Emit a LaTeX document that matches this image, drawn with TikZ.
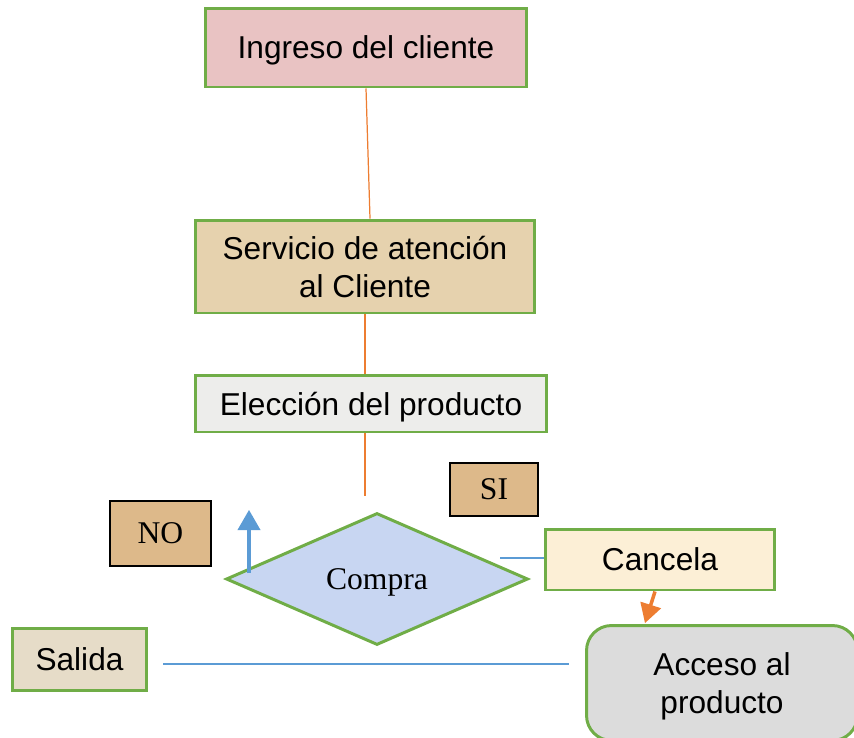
\documentclass[tikz,border=0pt]{standalone}
\usepackage{fontspec}
\setmainfont{Liberation Sans}
\newfontfamily\timesfont{Liberation Serif}
\usetikzlibrary{shapes, arrows}
\usepackage{xcolor}
\definecolor{boxgreen}{HTML}{70AD47}
\definecolor{lineorange}{HTML}{ED7D31}
\definecolor{lineblue}{HTML}{5B9BD5}
\definecolor{pinkfill}{HTML}{E9C3C3}
\definecolor{tanfill}{HTML}{E6D2AE}
\definecolor{greyfill}{HTML}{EDEDEB}
\definecolor{tagfill}{HTML}{DDB98A}
\definecolor{bluefill}{HTML}{C8D6F2}
\definecolor{creamfill}{HTML}{FCEFD6}
\definecolor{marblefill}{HTML}{DCDCDC}
\definecolor{linenfill}{HTML}{E6DCC8}

\begin{document}
\begin{tikzpicture}[x=0.02cm, y=-0.02cm]
		\tikzstyle{block} = [rectangle, draw=boxgreen, line width=1.7pt, text centered, align=center, text depth=0pt, font=\fontsize{18}{21.5}\selectfont]
		\tikzstyle{decision} = [diamond, draw=boxgreen, line width=1.7pt, inner sep=0pt, text depth=0pt, fill=bluefill, font=\timesfont\fontsize{18}{21.5}\selectfont]
		\tikzstyle{tag} = [rectangle, draw=black, line width=0.8pt, fill=tagfill, font=\timesfont\fontsize{18}{21.5}\selectfont]
		\tikzstyle{connector} = [draw=lineorange, line width=0.7pt]
		\tikzstyle{flowline} = [draw=lineblue, line width=0.7pt]
		\useasboundingbox (0,0) rectangle (854,737);
		\node [block, fill=pinkfill, minimum width=6.44cm, minimum height=1.58cm] at (366,47.5) (ingreso) {Ingreso del cliente};
		\node [block, fill=tanfill, minimum width=6.8cm, minimum height=1.86cm] at (365,266.5) (servicio) {Servicio de atención\\al Cliente};
		\node [block, fill=greyfill, minimum width=7.04cm, minimum height=1.14cm] at (371,403.5) (eleccion) {Elección del producto};
		\node [tag, minimum width=1.76cm, minimum height=1.06cm] at (494,489.5) (si) {SI};
		\node [tag, minimum width=2.02cm, minimum height=1.3cm] at (160.5,533.5) (no) {NO};
		\node [decision, minimum width=6.04cm, minimum height=2.64cm] at (377,579) (compra) {Compra};
		\node [block, fill=creamfill, minimum width=4.6cm, minimum height=1.22cm] at (660,559.5) (cancela) {Cancela};
		\node [block, fill=marblefill, rounded corners=0.5cm, minimum width=5.42cm, minimum height=2.3cm] at (722,683) (acceso) {Acceso al\\producto};
		\node [block, fill=linenfill, minimum width=2.7cm, minimum height=1.24cm] at (79.5,659) (salida) {Salida};
		\coordinate (nobase) at (249,573);
		\coordinate (notip) at (249,510);
		\coordinate (siend) at (500,558);
		\coordinate (accesotop) at (645,623);
		\path [connector] (ingreso.south) -- ([xshift=0.1cm]servicio.north);
		\path [connector] (servicio.south) -- (servicio.south |- eleccion.north);
		\path [connector, shorten >=0.32cm] (servicio.south |- eleccion.south) -- (servicio.south |- compra.north);
		\path [flowline] (siend) -- (siend -| cancela.west);
		\path [connector, line width=2pt, -triangle 60] ([xshift=-0.1cm]cancela.south) -- (accesotop);
		\path [flowline, line width=2.2pt, -triangle 60] (nobase) -- (notip);
		\path [flowline, shorten <=0.3cm, shorten >=0.32cm] ([yshift=-0.1cm]salida.east) -- ([yshift=-0.1cm]salida.east -| acceso.west);
	\end{tikzpicture}
\end{document}
